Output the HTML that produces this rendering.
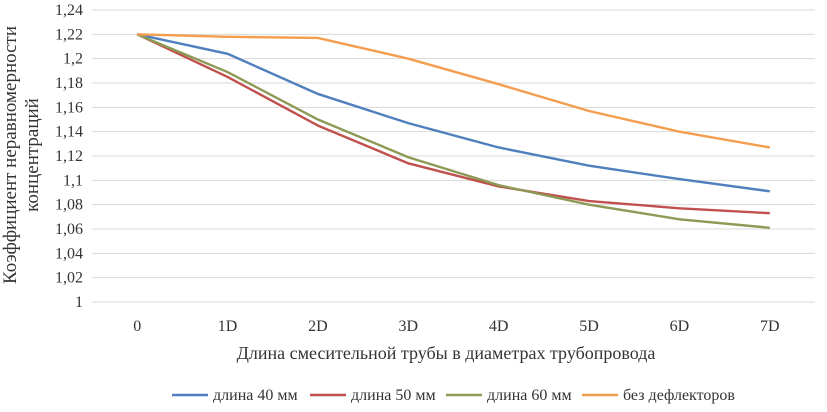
<!DOCTYPE html>
<html><head><meta charset="utf-8"><style>
body{margin:0;background:#fff;}
text{font-family:"Liberation Serif","DejaVu Serif",serif !important;fill:#333;}
</style></head><body>
<svg width="827" height="407" font-family="Liberation Serif, serif">
<g id="grid"></g><g id="ylab"></g><g id="xlab"></g><g id="series"></g>
<text x="16" y="155" font-size="19" text-anchor="middle" transform="rotate(-90 16 155)"><tspan x="16" dy="0">Коэффициент неравномерности</tspan><tspan x="16" dy="22">концентраций</tspan></text>
<text x="446" y="359" font-size="18" text-anchor="middle">Длина смесительной трубы в диаметрах трубопровода</text>
<g id="legend"></g>
</svg>
<script>
const categories=["0","1D","2D","3D","4D","5D","6D","7D"];
const yTicks=["1","1,02","1,04","1,06","1,08","1,1","1,12","1,14","1,16","1,18","1,2","1,22","1,24"];
const s40=[1.22,1.204,1.171,1.147,1.127,1.112,1.101,1.091];
const s50=[1.22,1.185,1.145,1.114,1.095,1.083,1.077,1.073];
const s60=[1.22,1.189,1.150,1.119,1.096,1.080,1.068,1.061];
const sNone=[1.22,1.218,1.217,1.200,1.179,1.157,1.140,1.127];
const names=["длина 40 мм","длина 50 мм","длина 60 мм","без дефлекторов"];
const colors=["#4f7fbd","#c0504d","#8c9a55","#f59d4f"];
const NS="http://www.w3.org/2000/svg";
const L=92,R=815,T=10,B=302;
const y=v=>B-(v-1)/0.24*(B-T);
const x=i=>L+(R-L)/categories.length*(i+0.5);
function mk(tag,at,parent){const e=document.createElementNS(NS,tag);for(const k in at)e.setAttribute(k,at[k]);document.getElementById(parent).appendChild(e);return e;}
yTicks.forEach((t,i)=>{const v=1+i*0.02;
 const g=mk("line",{x1:L,x2:R,y1:y(v),y2:y(v),stroke:"#d9d9d9","stroke-width":1},"grid");
 
 
 const tx=mk("text",{x:83,y:y(v)+5,"font-size":16,"text-anchor":"end"},"ylab");tx.textContent=t;
 
 
});
categories.forEach((c,i)=>{const tx=mk("text",{x:x(i),y:331,"font-size":16,"text-anchor":"middle"},"xlab");tx.textContent=c;
 
 
});
[s40,s50,s60,sNone].forEach((s,k)=>{
 const p=mk("polyline",{points:s.map((v,i)=>x(i)+","+y(v)).join(" "),fill:"none",stroke:colors[k],"stroke-width":2.4},"series");
 
 
});
const lx=[172,310,446,582];
names.forEach((n,k)=>{
 const l=mk("line",{x1:lx[k],x2:lx[k]+36,y1:395,y2:395,stroke:colors[k],"stroke-width":2.4},"legend");
 
 
 const t=mk("text",{x:lx[k]+41,y:400,"font-size":16},"legend");t.textContent=n;
 
 
});
</script>
</body></html>
